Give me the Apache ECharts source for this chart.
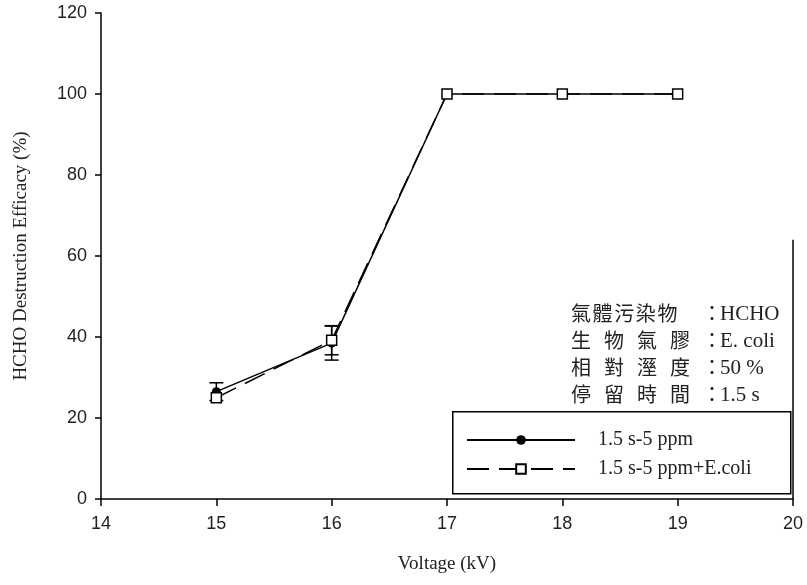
<!DOCTYPE html>
<html>
<head>
<meta charset="utf-8">
<script src="https://cdn.jsdelivr.net/npm/echarts@6/dist/echarts.min.js"></script>
<style>
  html, body { margin: 0; padding: 0; background: #fff; }
  #chart { width: 807px; height: 585px; }
</style>
</head>
<body>
<div id="chart"></div>
<script>
// voltage (kV)
var voltages = [15, 16, 17, 18, 19]
// 1.5 s-5 ppm
var gasOnly = [26.5, 38.5, 100, 100, 100]
var gasOnlyErr = [2.2, 4.2, 0, 0, 0]
// 1.5 s-5 ppm+E.coli
var gasBio = [25, 39.2, 100, 100, 100]
var gasBioErr = [0, 3.6, 0, 0, 0]

var seriesNames = ['1.5 s-5 ppm', '1.5 s-5 ppm+E.coli']
var noteLabels = [['氣', '體', '污', '染', '物'], ['生', '物', '氣', '膠'], ['相', '對', '溼', '度'], ['停', '留', '時', '間']]
var noteValues = ['HCHO', 'E. coli', '50 %', '1.5 s']

var serif = '"Liberation Serif", "Times New Roman", serif'
var sans = '"Liberation Sans", Arial, sans-serif'
var cjk = '"Noto Sans CJK TC", "Noto Sans CJK SC", sans-serif'

function errData (xs, ys, es) {
  var out = []
  xs.forEach(function (x, i) {
    if (es[i] > 0) out.push([x, ys[i] - es[i], ys[i] + es[i]])
  })
  return out
}

function renderErr (params, api) {
  var x = api.value(0)
  var lo = api.coord([x, api.value(1)])
  var hi = api.coord([x, api.value(2)])
  var half = 7
  var style = { stroke: '#000', lineWidth: 1.5 }
  return {
    type: 'group',
    children: [
      { type: 'line', shape: { x1: lo[0], y1: lo[1], x2: hi[0], y2: hi[1] }, style: style },
      { type: 'line', shape: { x1: lo[0] - half, y1: lo[1], x2: lo[0] + half, y2: lo[1] }, style: style },
      { type: 'line', shape: { x1: hi[0] - half, y1: hi[1], x2: hi[0] + half, y2: hi[1] }, style: style }
    ]
  }
}

// annotation block (text only)
var noteGraphics = []
noteLabels.forEach(function (chars, row) {
  var y = 315 + row * 27
  var step = chars.length === 5 ? 21.6 : 33
  chars.forEach(function (ch, k) {
    noteGraphics.push({
      type: 'text', left: 571 + k * step, top: y - 12,
      style: { text: ch, font: '20px ' + cjk, fill: '#222' }
    })
  })
  noteGraphics.push({
    type: 'text', left: 702, top: y - 12,
    style: { text: '：', font: '20px ' + cjk, fill: '#222' }
  })
  noteGraphics.push({
    type: 'text', left: 720, top: y - 11,
    style: { text: noteValues[row], font: '21px ' + serif, fill: '#222' }
  })
})
noteGraphics.push({
  type: 'rect', left: 452, top: 411,
  shape: { width: 338, height: 82 },
  style: { fill: '#fff', stroke: '#000', lineWidth: 1.5 }
})

var chart = echarts.init(document.getElementById('chart'))
chart.setOption({
  animation: false,
  backgroundColor: '#fff',
  grid: { left: 101, right: 14, top: 13, bottom: 86 },
  xAxis: {
    type: 'value',
    min: 14,
    max: 20,
    interval: 1,
    name: 'Voltage (kV)',
    nameLocation: 'middle',
    nameGap: 56,
    nameTextStyle: { fontFamily: serif, fontSize: 19, color: '#222' },
    axisLine: { lineStyle: { color: '#000', width: 1.5 } },
    axisTick: { length: 7, lineStyle: { color: '#000', width: 1.5 } },
    axisLabel: { margin: 16, fontFamily: sans, fontSize: 18, color: '#222' },
    splitLine: { show: false }
  },
  yAxis: {
    type: 'value',
    min: 0,
    max: 120,
    interval: 20,
    name: 'HCHO Destruction Efficacy (%)',
    nameLocation: 'middle',
    nameGap: 70,
    nameTextStyle: { fontFamily: serif, fontSize: 19, color: '#222' },
    axisLine: { lineStyle: { color: '#000', width: 1.5 } },
    axisTick: { length: 6, lineStyle: { color: '#000', width: 1.5 } },
    axisLabel: { margin: 14, fontFamily: sans, fontSize: 18, color: '#222' },
    splitLine: { show: false }
  },
  legend: {
    data: seriesNames,
    orient: 'vertical',
    left: 461,
    top: 425,
    itemWidth: 108,
    itemHeight: 12,
    itemGap: 9,
    z: 20,
    textStyle: { fontFamily: serif, fontSize: 20, color: '#222', padding: [0, 0, 0, 18] }
  },
  graphic: noteGraphics,
  series: [
    {
      name: seriesNames[0],
      type: 'line',
      data: voltages.map(function (v, i) { return [v, gasOnly[i]] }),
      symbol: 'circle',
      symbolSize: 9,
      itemStyle: { color: '#000' },
      lineStyle: { color: '#000', width: 1.5 },
      markLine: {
        silent: true,
        symbol: 'none',
        label: { show: false },
        lineStyle: { color: '#000', width: 1.5, type: 'solid' },
        data: [[{ coord: [20, 0] }, { coord: [20, 64] }]]
      },
      z: 3
    },
    {
      name: seriesNames[1],
      type: 'line',
      data: voltages.map(function (v, i) { return [v, gasBio[i]] }),
      symbol: 'rect',
      symbolSize: 10,
      itemStyle: { color: '#fff', borderColor: '#000', borderWidth: 1.5 },
      lineStyle: { color: '#000', width: 1.5, type: [22, 10] },
      z: 4
    },
    {
      type: 'custom',
      renderItem: renderErr,
      data: errData(voltages, gasOnly, gasOnlyErr),
      encode: { x: 0, y: [1, 2] },
      z: 2
    },
    {
      type: 'custom',
      renderItem: renderErr,
      data: errData(voltages, gasBio, gasBioErr),
      encode: { x: 0, y: [1, 2] },
      z: 2
    }
  ]
})
</script>
</body>
</html>
